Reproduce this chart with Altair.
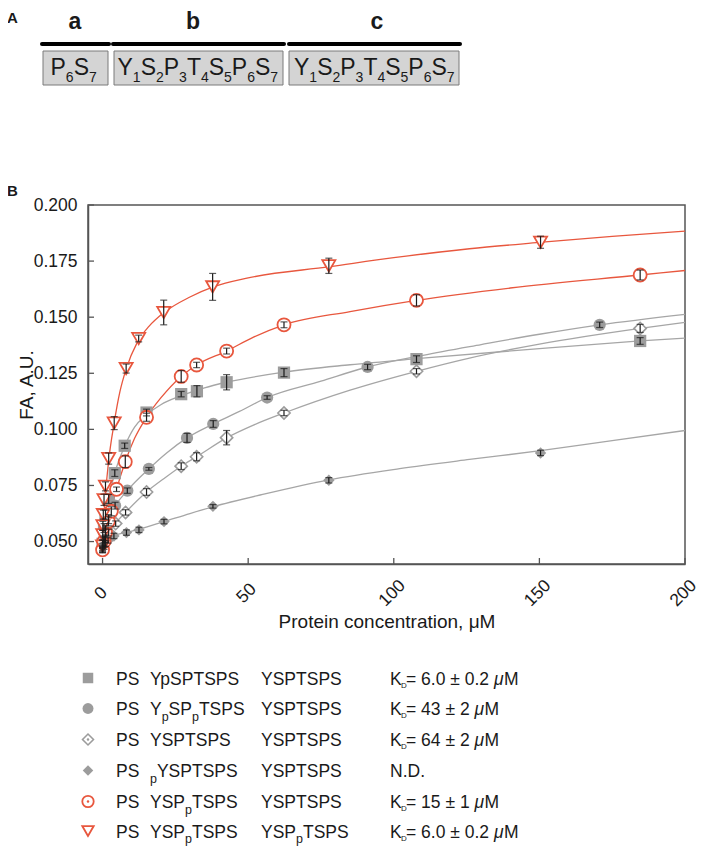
import altair as alt
import pandas as pd

FONT = "Liberation Sans"
INK = "#1a1a1a"
GREY = "#9c9c9c"
LINE_GREY = "#a6a6a6"
RED = "#e8573e"

# ---------------- values ----------------
# PS YpSPTSPS / YSPTSPS  (grey squares)
sq_conc = [0, 0.5, 1.0, 2.1, 4.2, 7.6, 15.1, 27.0, 32.4, 42.6, 62.3, 107.8, 184.6]
sq_fa = [0.049, 0.056, 0.062, 0.069, 0.0805, 0.0927, 0.1075, 0.1157, 0.1170, 0.1210, 0.1253, 0.1313, 0.1394]
sq_err = [0.0015, 0.002, 0.002, 0.002, 0.0015, 0.0012, 0.0015, 0.0012, 0.0025, 0.0034, 0.0018, 0.0015, 0.0015]
sq_fit_conc = [0, 1, 2, 4.2, 7.6, 11, 15.1, 20, 27, 35, 42.6, 62.3, 85, 107.8, 150, 184.6, 200]
sq_fit_fa = [0.048, 0.060, 0.0685, 0.0805, 0.0925, 0.101, 0.1065, 0.111, 0.1150, 0.1185, 0.1210, 0.1255, 0.1288, 0.1315, 0.1360, 0.1394, 0.1407]

# PS YpSPpTSPS / YSPTSPS  (grey filled circles)
ci_conc = [0, 0.5, 1.0, 2.1, 4.3, 8.5, 15.9, 29.0, 38.0, 56.5, 91.0, 170.7]
ci_fa = [0.047, 0.051, 0.055, 0.060, 0.066, 0.0727, 0.0824, 0.0962, 0.1024, 0.1142, 0.1278, 0.1466]
ci_err = [0.0015, 0.0015, 0.002, 0.002, 0.0015, 0.0012, 0.0006, 0.002, 0.0015, 0.0008, 0.0012, 0.0012]
ci_fit_conc = [0, 2, 4.3, 8.5, 15.9, 22, 29, 38, 47, 56.5, 75, 91, 110, 130, 150, 170.7, 200]
ci_fit_fa = [0.047, 0.058, 0.0655, 0.0727, 0.0824, 0.0895, 0.0962, 0.1024, 0.108, 0.1142, 0.1215, 0.1278, 0.1330, 0.1378, 0.1424, 0.1466, 0.1513]

# PS YSPTSPS / YSPTSPS  (open grey diamonds)
od_conc = [0, 0.5, 1.0, 2.1, 4.5, 7.9, 15.1, 27.0, 32.3, 42.6, 62.3, 107.8, 184.6]
od_fa = [0.047, 0.049, 0.051, 0.054, 0.0580, 0.0630, 0.0721, 0.0836, 0.0878, 0.0963, 0.1073, 0.1259, 0.1450]
od_err = [0.001, 0.0015, 0.0015, 0.0015, 0.0012, 0.0012, 0.0015, 0.0015, 0.0018, 0.0032, 0.0012, 0.0012, 0.0018]
od_fit_conc = [0, 2, 4.5, 7.9, 15.1, 21, 27, 32.3, 42.6, 52, 62.3, 85, 107.8, 126, 150, 184.6, 200]
od_fit_fa = [0.047, 0.053, 0.0582, 0.0630, 0.0721, 0.078, 0.0836, 0.0878, 0.0962, 0.1020, 0.1073, 0.1175, 0.1259, 0.1318, 0.1380, 0.1450, 0.1477]

# PS pYSPTSPS / YSPTSPS  (filled grey diamonds)
fd_conc = [0, 0.5, 1.0, 1.9, 3.9, 8.2, 12.5, 21.1, 37.9, 77.7, 150.4]
fd_fa = [0.046, 0.0475, 0.049, 0.0505, 0.0525, 0.0540, 0.0552, 0.0589, 0.0657, 0.0773, 0.0895]
fd_err = [0.001, 0.001, 0.0012, 0.0012, 0.0012, 0.0012, 0.0012, 0.001, 0.0008, 0.0012, 0.0012]
fd_fit_conc = [0, 1, 3.9, 8.2, 12.5, 21.1, 30, 37.9, 55, 77.7, 102, 126, 150.4, 175, 200]
fd_fit_fa = [0.046, 0.049, 0.0525, 0.0541, 0.0555, 0.0589, 0.0625, 0.0655, 0.0710, 0.0775, 0.0825, 0.0866, 0.0905, 0.0950, 0.0995]

# PS YSPpTSPS / YSPTSPS  (open red circles)
rc_conc = [0, 0.5, 1.0, 2.0, 3.0, 4.8, 7.8, 15.1, 27.0, 32.3, 42.6, 62.3, 107.8, 184.6]
rc_fa = [0.0463, 0.050, 0.054, 0.059, 0.0635, 0.0733, 0.0856, 0.1054, 0.1236, 0.1287, 0.1349, 0.1466, 0.1575, 0.1688]
rc_err = [0.0012, 0.002, 0.002, 0.002, 0.002, 0.001, 0.0026, 0.0018, 0.0026, 0.0012, 0.0013, 0.0013, 0.0025, 0.0022]
rc_fit_conc = [0, 1, 2, 3, 4.8, 7.8, 11, 15.1, 20, 27, 32.3, 42.6, 52, 62.3, 85, 107.8, 140, 184.6, 200]
rc_fit_fa = [0.0465, 0.053, 0.059, 0.0645, 0.0733, 0.0856, 0.096, 0.1054, 0.1140, 0.1236, 0.1287, 0.1349, 0.1412, 0.1466, 0.1525, 0.1575, 0.1630, 0.1688, 0.1708]

# PS YSPpTSPS / YSPpTSPS  (open red down-triangles)
tr_conc = [0, 0.06, 0.12, 0.25, 0.5, 1.0, 2.1, 4.0, 8.1, 12.4, 21.0, 37.8, 77.7, 150.4]
tr_fa = [0.048, 0.053, 0.057, 0.062, 0.0686, 0.0746, 0.0870, 0.1028, 0.1271, 0.1405, 0.1521, 0.1635, 0.1729, 0.1834]
tr_err = [0.0012, 0.002, 0.002, 0.002, 0.0025, 0.002, 0.0025, 0.0029, 0.002, 0.0015, 0.0055, 0.006, 0.0034, 0.0027]
tr_fit_conc = [0, 0.5, 1, 2, 4, 6, 8, 12, 16, 21, 30, 38, 50, 78, 100, 126, 150, 175, 200]
tr_fit_fa = [0.048, 0.062, 0.071, 0.085, 0.103, 0.117, 0.1265, 0.139, 0.146, 0.152, 0.159, 0.1635, 0.1675, 0.1725, 0.1765, 0.1805, 0.1833, 0.186, 0.1884]

x_ticks = [0, 50, 100, 150, 200]
y_ticks = [0.050, 0.075, 0.100, 0.125, 0.150, 0.175, 0.200]

legend_col2 = [
    [("YpSPTSPS", 0)],
    [("Y", 0), ("p", 1), ("SP", 0), ("p", 1), ("TSPS", 0)],
    [("YSPTSPS", 0)],
    [("p", 1), ("YSPTSPS", 0)],
    [("YSP", 0), ("p", 1), ("TSPS", 0)],
    [("YSP", 0), ("p", 1), ("TSPS", 0)],
]
legend_col3 = [[("YSPTSPS", 0)]] * 5 + [[("YSP", 0), ("p", 1), ("TSPS", 0)]]
legend_kd = ["6.0 ± 0.2", "43 ± 2", "64 ± 2", None, "15 ± 1", "6.0 ± 0.2"]

panel_letters = ["a", "b", "c"]
box_segments = [
    [("P", 0), ("6", 1), ("S", 0), ("7", 1)],
    [("Y", 0), ("1", 1), ("S", 0), ("2", 1), ("P", 0), ("3", 1), ("T", 0), ("4", 1),
     ("S", 0), ("5", 1), ("P", 0), ("6", 1), ("S", 0), ("7", 1)],
    [("Y", 0), ("1", 1), ("S", 0), ("2", 1), ("P", 0), ("3", 1), ("T", 0), ("4", 1),
     ("S", 0), ("5", 1), ("P", 0), ("6", 1), ("S", 0), ("7", 1)],
]

# ---------------- layout ----------------
X0, Y0 = 88, 205          # page position of the plot area
PW, PH = 597, 359

AW = {' ': 278, '.': 278, ',': 278, '=': 584, '±': 549, 'K': 667, 'D': 722, 'M': 833,
      'N': 722, 'P': 667, 'S': 667, 'T': 611, 'Y': 667, 'p': 556, 'μ': 576}
for d in "0123456789":
    AW[d] = 556


def tw(s, fs):
    return sum(AW.get(c, 556) for c in s) * fs / 1000.0


series = [
    dict(k="sq", c=sq_conc, f=sq_fa, e=sq_err, fc=sq_fit_conc, ff=sq_fit_fa, shape="square",
         fill=GREY, stroke=GREY, sw=0, size=150, line=LINE_GREY),
    dict(k="ci", c=ci_conc, f=ci_fa, e=ci_err, fc=ci_fit_conc, ff=ci_fit_fa, shape="circle",
         fill=GREY, stroke=GREY, sw=0, size=150, line=LINE_GREY),
    dict(k="od", c=od_conc, f=od_fa, e=od_err, fc=od_fit_conc, ff=od_fit_fa, shape="diamond",
         fill="white", stroke=GREY, sw=1.6, size=150, line=LINE_GREY),
    dict(k="fd", c=fd_conc, f=fd_fa, e=fd_err, fc=fd_fit_conc, ff=fd_fit_fa, shape="diamond",
         fill=GREY, stroke=GREY, sw=0, size=130, line=LINE_GREY),
    dict(k="rc", c=rc_conc, f=rc_fa, e=rc_err, fc=rc_fit_conc, ff=rc_fit_fa, shape="circle",
         fill="white", stroke=RED, sw=1.8, size=170, line=RED),
    dict(k="tr", c=tr_conc, f=tr_fa, e=tr_err, fc=tr_fit_conc, ff=tr_fit_fa, shape="triangle-down",
         fill="white", stroke=RED, sw=1.8, size=170, line=RED),
]

xs = alt.Scale(domain=[-5, 200], nice=False, zero=False)
ys = alt.Scale(domain=[0.04, 0.2], nice=False, zero=False)

x_axis = alt.Axis(values=x_ticks, labelAngle=315, labelAlign="center", labelBaseline="middle",
                  labelPadding=29, labelOffset=-2, ticks=False, tickSize=0, grid=False,
                  domainColor="#555555", domainWidth=1.5, labelFont=FONT, labelFontSize=17.5,
                  labelColor=INK, titleFont=FONT, titleFontSize=19, titleFontWeight="normal",
                  titleColor=INK, titleY=63, titleBaseline="alphabetic")
y_axis = alt.Axis(values=y_ticks, format=".3f", labelPadding=11, ticks=False, tickSize=0,
                  grid=False, domainColor="#555555", domainWidth=1.5, labelFont=FONT,
                  labelFontSize=17.5, labelColor=INK, titleFont=FONT, titleFontSize=19,
                  titleFontWeight="normal", titleColor=INK, titleX=-56, titleY=179.5,
                  titleAngle=270, titleAlign="center", titleBaseline="alphabetic")

XT = "Protein concentration, μM"
YT = "FA, A.U."


def ex(field):
    return alt.X(field, type="quantitative", scale=xs, axis=x_axis, title=XT)


def ey(field):
    return alt.Y(field, type="quantitative", scale=ys, axis=y_axis, title=YT)


layers = []

# fitted curves
curve_rows = []
for s in series:
    for c, f in zip(s["fc"], s["ff"]):
        curve_rows.append(dict(s=s["k"], conc=c, fa=f))
curves = pd.DataFrame(curve_rows)
layers.append(
    alt.Chart(curves).mark_line(strokeWidth=1.3, interpolate="monotone").encode(
        x=ex("conc"), y=ey("fa"),
        color=alt.Color("s:N", scale=alt.Scale(domain=[s["k"] for s in series],
                                                range=[s["line"] for s in series]), legend=None),
        detail="s:N")
)

# markers
for s in series:
    df = pd.DataFrame(dict(conc=s["c"], fa=s["f"]))
    layers.append(
        alt.Chart(df).mark_point(shape=s["shape"], filled=True, fill=s["fill"], stroke=s["stroke"],
                                 strokeWidth=s["sw"], size=s["size"], opacity=1).encode(
            x=ex("conc"), y=ey("fa"))
    )

# error bars
err_rows = []
for s in series:
    for c, f, e in zip(s["c"], s["f"], s["e"]):
        err_rows.append(dict(conc=c, lo=f - e, hi=f + e))
errs = pd.DataFrame(err_rows)
layers.append(alt.Chart(errs).mark_rule(color=INK, strokeWidth=1.2).encode(
    x=ex("conc"), y=ey("lo"), y2="hi"))
layers.append(alt.Chart(errs).mark_tick(orient="horizontal", color=INK, size=7, thickness=1.2).encode(
    x=ex("conc"), y=ey("lo")))
layers.append(alt.Chart(errs).mark_tick(orient="horizontal", color=INK, size=7, thickness=1.2).encode(
    x=ex("conc"), y=ey("hi")))

# inward ticks
layers.append(alt.Chart(pd.DataFrame(dict(v=y_ticks))).mark_rule(color="#555555", strokeWidth=1.3).encode(
    y=ey("v"), x=alt.value(0), x2=alt.value(6)))
layers.append(alt.Chart(pd.DataFrame(dict(v=x_ticks))).mark_rule(color="#555555", strokeWidth=1.3).encode(
    x=ex("v"), y=alt.value(PH), y2=alt.value(PH - 6)))

# ---------------- annotations (pixel positions) ----------------
PX = dict(scale=None, axis=None)


def text_layer(rows, fs, weight="normal", style="normal", align="left", color=INK):
    return alt.Chart(pd.DataFrame(rows)).mark_text(
        font=FONT, fontSize=fs, fontWeight=weight, fontStyle=style, align=align,
        baseline="alphabetic", color=color).encode(
        x=alt.X("x:Q", **PX), y=alt.Y("y:Q", **PX), text="t:N")


# panel A
box_x = [(43, 108), (114, 283), (289, 459)]
box_text_x = [50.5, 117.5, 294]
line_x = [(42, 109), (113, 284), (289, 460)]
letter_x = [75, 193, 377]
BOX_T, BOX_B, LINE_Y = 51, 85, 44
MAIN_BASE, SUB_BASE, MAIN_FS, SUB_FS = 75, 82, 23, 14

layers.append(alt.Chart(pd.DataFrame([dict(x=a - X0, x2=b - X0, y=BOX_T - Y0, y2=BOX_B - Y0) for a, b in box_x]))
              .mark_rect(fill="#d4d4d4", stroke="#7a7a7a", strokeWidth=1)
              .encode(x=alt.X("x:Q", **PX), x2="x2", y=alt.Y("y:Q", **PX), y2="y2"))
layers.append(alt.Chart(pd.DataFrame([dict(x=a - X0, x2=b - X0, y=LINE_Y - Y0) for a, b in line_x]))
              .mark_rule(color="black", strokeWidth=4, strokeCap="round")
              .encode(x=alt.X("x:Q", **PX), x2="x2", y=alt.Y("y:Q", **PX)))

main_rows, sub_rows = [], []
for segs, x in zip(box_segments, box_text_x):
    for t, is_sub in segs:
        if is_sub:
            sub_rows.append(dict(x=x - X0, y=SUB_BASE - Y0, t=t))
            x += tw(t, SUB_FS)
        else:
            main_rows.append(dict(x=x - X0, y=MAIN_BASE - Y0, t=t))
            x += tw(t, MAIN_FS)
layers.append(text_layer(main_rows, MAIN_FS))
layers.append(text_layer(sub_rows, SUB_FS))
layers.append(text_layer([dict(x=lx - X0, y=29 - Y0, t=t) for lx, t in zip(letter_x, panel_letters)],
                         23, weight="bold", align="center"))
layers.append(text_layer([dict(x=7 - X0, y=23 - Y0, t="A"), dict(x=7 - X0, y=196 - Y0, t="B")],
                         15, weight="bold"))

# legend
LEG_Y = [678, 708.5, 739.5, 770.5, 801.5, 831]
SYM_X, PS_X, C2_X, C3_X, KD_X = 88, 116, 150, 261, 390
LFS, LSFS = 17.5, 12.5
reg, sub, ital, tiny = [], [], [], []


def put(segs, x, base):
    for t, is_sub in segs:
        if is_sub:
            sub.append(dict(x=x - X0, y=base + 5.5 - Y0, t=t))
            x += tw(t, LSFS)
        else:
            reg.append(dict(x=x - X0, y=base - Y0, t=t))
            x += tw(t, LFS)


for i, ry in enumerate(LEG_Y):
    base = ry + 6.5
    reg.append(dict(x=PS_X - X0, y=base - Y0, t="PS"))
    put(legend_col2[i], C2_X, base)
    put(legend_col3[i], C3_X, base)
    kd = legend_kd[i]
    if kd is None:
        reg.append(dict(x=KD_X - X0, y=base - Y0, t="N.D."))
    else:
        reg.append(dict(x=KD_X - X0, y=base - Y0, t="K"))
        tiny.append(dict(x=KD_X + 11 - X0, y=base + 3 - Y0, t="D"))
        s1 = "= " + kd + " "
        x = KD_X + 16
        reg.append(dict(x=x - X0, y=base - Y0, t=s1))
        x += tw(s1, LFS)
        ital.append(dict(x=x - X0, y=base - Y0, t="μ"))
        x += tw("μ", LFS)
        reg.append(dict(x=x - X0, y=base - Y0, t="M"))

layers.append(text_layer(reg, LFS))
layers.append(text_layer(sub, LSFS))
layers.append(text_layer(ital, LFS, style="italic"))
layers.append(text_layer(tiny, 8))

leg_sizes = [110, 120, 120, 110, 130, 130]
for s, ry, sz in zip(series, LEG_Y, leg_sizes):
    layers.append(
        alt.Chart(pd.DataFrame([dict(x=SYM_X - X0, y=ry - Y0)])).mark_point(
            shape=s["shape"], filled=True, fill=s["fill"], stroke=s["stroke"],
            strokeWidth=s["sw"], size=sz, opacity=1).encode(
            x=alt.X("x:Q", **PX), y=alt.Y("y:Q", **PX)))
# small centre dots in the open legend symbols
layers.append(
    alt.Chart(pd.DataFrame([dict(x=SYM_X - X0, y=LEG_Y[2] - Y0, c=GREY),
                            dict(x=SYM_X - X0, y=LEG_Y[4] - Y0, c=RED)]))
    .mark_circle(size=6, opacity=1)
    .encode(x=alt.X("x:Q", **PX), y=alt.Y("y:Q", **PX), color=alt.Color("c:N", scale=None)))

chart = alt.layer(*layers).properties(
    width=PW, height=PH,
    autosize=alt.AutoSizeParams(type="none"),
    padding={"left": X0 - 8, "top": Y0 - 8, "right": 709 - 16 - (X0 - 8) - PW, "bottom": 856 - 16 - (Y0 - 8) - PH},
    background="white",
).configure_view(stroke="#555555", strokeWidth=1.5)

chart.save("out.html", embed_options={"renderer": "svg", "actions": False})
